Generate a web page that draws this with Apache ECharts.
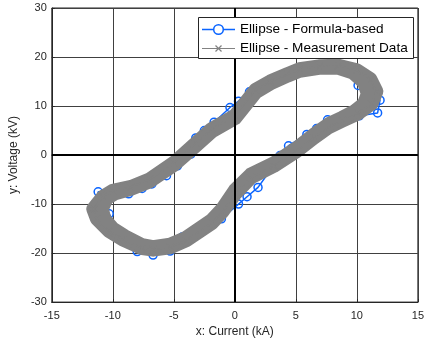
<!DOCTYPE html>
<html>
<head>
<meta charset="utf-8">
<script src="https://cdn.jsdelivr.net/npm/echarts@6/dist/echarts.min.js"></script>
<style>
html,body{margin:0;padding:0;background:#fff;}
#c{width:427px;height:343px;}
</style>
</head>
<body>
<div id="c"></div>
<script>
// Axis ticks
const xTicks = [-15, -10, -5, 0, 5, 10, 15];
const yTicks = [-30, -20, -10, 0, 10, 20, 30];

// Series names
const seriesNames = ['Ellipse - Formula-based', 'Ellipse - Measurement Data'];

// Formula-based ellipse (blue, circles)
const formulaX = [-11.4,-11.2,-10.0,-8.7,-7.6,-6.8,-5.6,-4.7,-3.6,-3.2,-2.5,-1.7,-0.4,0.3,1.2,3.0,4.4,5.5,6.6,8.5,9.6,10.1,11.2,11.9,11.7,10.2,9.0,7.6,6.7,5.9,4.4,3.7,3.0,1.9,1.0,0.3,-1.1,-1.9,-3.2,-4.3,-5.3,-6.7,-8.0,-9.2,-10.3,-11.4];
const formulaY = [-10.5,-7.5,-7.4,-7.9,-6.8,-5.9,-4.2,-2.2,0.2,3.5,5.0,6.7,9.7,11.0,12.9,14.8,16.6,17.6,18.2,17.6,17.6,14.2,12.8,11.2,8.6,8.0,7.7,7.2,5.4,4.2,1.9,-0.1,-2.8,-6.6,-8.5,-10.0,-13.0,-13.7,-15.4,-16.7,-19.6,-20.4,-19.7,-16.7,-12.0,-10.5];

const measX = [-11.6,-10.8,-10.0,-8.5,-7.0,-5.0,-3.2,-1.9,0.0,1.7,2.9,4.3,5.3,6.9,8.5,10.0,11.1,11.6,11.2,10.1,8.8,7.7,6.5,5.0,3.2,1.3,0.0,-1.0,-1.9,-4.0,-5.3,-6.7,-7.6,-9.2,-10.3,-11.3,-11.6];
const measY = [-11.0,-8.5,-7.3,-6.5,-5.0,-1.6,2.4,5.3,8.0,13.3,15.0,16.5,17.5,18.1,18.2,17.3,15.5,13.0,10.5,8.5,7.0,5.7,3.6,0.7,-2.2,-4.6,-8.0,-11.5,-13.9,-17.4,-18.8,-19.3,-19.0,-17.2,-15.5,-13.0,-11.0];

const meas2X = [-10.9,-10.5,-9.8,-8.5,-7.0,-5.0,-3.2,-1.9,0.0,1.7,2.9,4.3,5.3,6.9,8.5,9.7,10.6,10.9,10.6,9.8,8.8,7.7,6.5,5.0,3.2,1.3,0.0,-1.0,-1.9,-4.0,-5.3,-6.7,-7.6,-9.0,-10.0,-10.7,-10.9];
const meas2Y = [-11.0,-8.8,-7.8,-6.9,-5.4,-2.0,1.9,4.8,7.5,12.8,14.6,16.2,17.2,17.8,17.8,16.8,14.8,12.5,10.5,8.9,7.6,6.3,4.2,1.3,-1.7,-4.0,-7.2,-10.9,-13.3,-16.9,-18.3,-18.8,-18.4,-16.6,-15.0,-13.0,-11.0];

const pairs = (xs, ys) => xs.map((x, i) => [x, ys[i]]);

const FONT = 'Liberation Sans, Arial, sans-serif';
const BLUE = '#0a64ff';
const GRAY = '#828282';
const xMark = 'path://M0,0L10,10M10,0L0,10';

// Legend box (drawn as graphic so the icons match the reference exactly)
const LG = {x: 198, y: 17, w: 215, h: 41, row1: 29, row2: 48, iconX: 202, iconW: 33, textX: 240};

const bandStyle = {color: GRAY, width: 14, cap: 'round', join: 'round'};

const chart = echarts.init(document.getElementById('c'), null, {renderer: 'canvas'});
chart.setOption({
  animation: false,
  backgroundColor: '#ffffff',
  grid: {left: 46, right: 6, top: 8, bottom: 39, show: true, borderColor: '#262626', borderWidth: 1, backgroundColor: 'transparent'},
  graphic: [
    {type: 'rect', z: 100, shape: {x: LG.x + 0.5, y: LG.y + 0.5, width: LG.w, height: LG.h}, style: {fill: '#ffffff', stroke: '#262626', lineWidth: 1}},
    {type: 'line', z: 101, shape: {x1: LG.iconX, y1: LG.row1 + 0.5, x2: LG.iconX + LG.iconW, y2: LG.row1 + 0.5}, style: {stroke: BLUE, lineWidth: 1.5}},
    {type: 'circle', z: 102, shape: {cx: LG.iconX + LG.iconW / 2, cy: LG.row1 + 0.5, r: 4.8}, style: {fill: '#ffffff', stroke: BLUE, lineWidth: 1.5}},
    {type: 'text', z: 102, style: {x: LG.textX, y: LG.row1 + 0.5, text: seriesNames[0], fill: '#000', font: '13.6px ' + FONT, verticalAlign: 'middle', align: 'left'}},
    {type: 'line', z: 101, shape: {x1: LG.iconX, y1: LG.row2 + 0.5, x2: LG.iconX + LG.iconW, y2: LG.row2 + 0.5}, style: {stroke: GRAY, lineWidth: 1}},
    {type: 'polyline', z: 102, shape: {points: [[LG.iconX + LG.iconW / 2 - 3, LG.row2 - 2.5], [LG.iconX + LG.iconW / 2 + 3, LG.row2 + 3.5]]}, style: {stroke: GRAY, lineWidth: 1.2, fill: null}},
    {type: 'polyline', z: 102, shape: {points: [[LG.iconX + LG.iconW / 2 + 3, LG.row2 - 2.5], [LG.iconX + LG.iconW / 2 - 3, LG.row2 + 3.5]]}, style: {stroke: GRAY, lineWidth: 1.2, fill: null}},
    {type: 'text', z: 102, style: {x: LG.textX, y: LG.row2 + 0.5, text: seriesNames[1], fill: '#000', font: '13.6px ' + FONT, verticalAlign: 'middle', align: 'left'}}
  ],
  xAxis: {
    type: 'value', min: xTicks[0], max: xTicks[xTicks.length - 1], interval: 5,
    name: 'x: Current (kA)', nameLocation: 'middle', nameGap: 19,
    nameTextStyle: {fontFamily: FONT, fontSize: 12, color: '#262626'},
    axisLine: {show: true, onZero: false, lineStyle: {color: '#262626', width: 1}},
    axisTick: {show: true, inside: true, length: 3, lineStyle: {color: '#262626'}},
    axisLabel: {fontFamily: FONT, fontSize: 11, color: '#262626', margin: 8},
    splitLine: {show: true, lineStyle: {color: '#404040', width: 1}}
  },
  yAxis: {
    type: 'value', min: yTicks[0], max: yTicks[yTicks.length - 1], interval: 10,
    name: 'y: Voltage (kV)', nameLocation: 'middle', nameGap: 28, nameRotate: 90,
    nameTextStyle: {fontFamily: FONT, fontSize: 12, color: '#262626'},
    axisLine: {show: true, onZero: false, lineStyle: {color: '#262626', width: 1}},
    axisTick: {show: true, inside: true, length: 3, lineStyle: {color: '#262626'}},
    axisLabel: {fontFamily: FONT, fontSize: 11, color: '#262626', margin: 5},
    splitLine: {show: true, lineStyle: {color: '#404040', width: 1}}
  },
  series: [
    {
      name: seriesNames[0], type: 'line', z: 2,
      data: pairs(formulaX, formulaY),
      symbol: 'circle', symbolSize: 8, showSymbol: true,
      lineStyle: {color: BLUE, width: 1.5},
      itemStyle: {color: 'rgba(255,255,255,0)', borderColor: BLUE, borderWidth: 1.5},
      emphasis: {disabled: true}
    },
    {
      name: seriesNames[1] + ' (band 1)', type: 'line', z: 3,
      data: pairs(measX, measY),
      symbol: 'none', silent: true,
      lineStyle: bandStyle,
      emphasis: {disabled: true}
    },
    {
      name: seriesNames[1] + ' (band 2)', type: 'line', z: 3,
      data: pairs(meas2X, meas2Y),
      symbol: 'none', silent: true,
      lineStyle: bandStyle,
      emphasis: {disabled: true}
    },
    {
      name: seriesNames[1], type: 'line', z: 4,
      data: pairs(measX, measY),
      symbol: xMark, symbolSize: 7, showSymbol: true,
      lineStyle: {color: GRAY, width: 1.5},
      itemStyle: {color: 'rgba(0,0,0,0)', borderColor: GRAY, borderWidth: 1.2},
      emphasis: {disabled: true}
    },
    {
      name: 'zero lines', type: 'line', z: 6, data: [], silent: true,
      markLine: {
        silent: true, symbol: 'none', label: {show: false},
        lineStyle: {color: '#000000', width: 2, type: 'solid'},
        data: [{xAxis: 0}, {yAxis: 0}],
        animation: false
      }
    }
  ]
});
</script>
</body>
</html>
